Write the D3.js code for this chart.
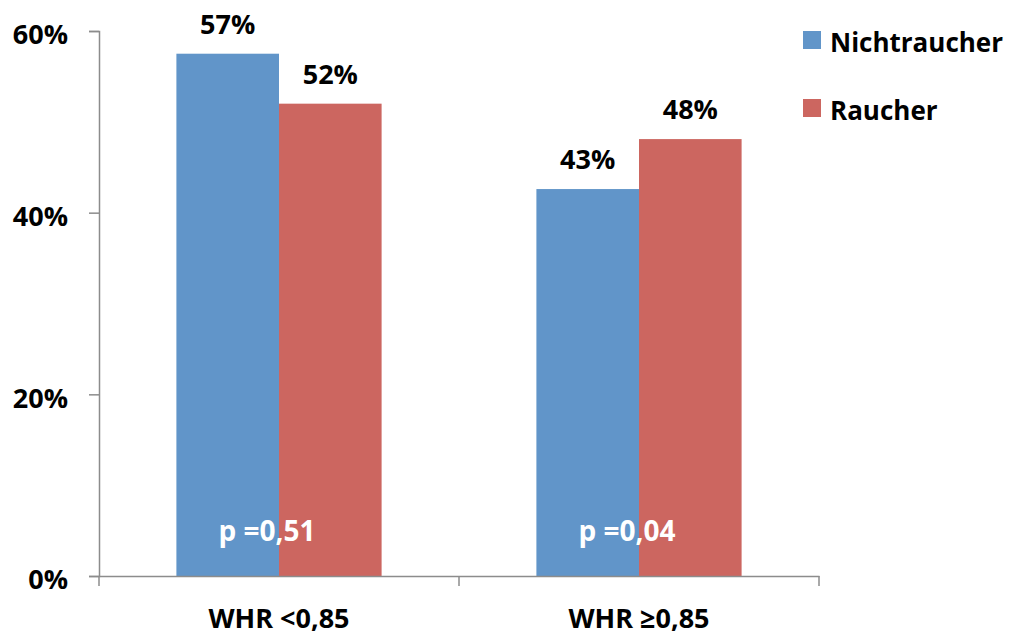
<!DOCTYPE html>
<html>
<head>
<meta charset="utf-8">
<script src="https://cdn.jsdelivr.net/npm/d3@7"></script>
<style>
  body { margin: 0; background: #fff; }
  svg text { font-family: "Open Sans", Lato, sans-serif; font-weight: bold; fill: #000; }
</style>
</head>
<body>
<div id="chart"></div>
<script>
// Data
const categories = ["WHR <0,85", "WHR \u22650,85"];
const series = ["Nichtraucher", "Raucher"];
const nichtraucher = [57.5, 42.6];
const raucher = [52.0, 48.1];
const valueLabels = [["57%", "52%"], ["43%", "48%"]];
const pValues = ["p =0,51", "p =0,04"];
const yTicks = [0, 20, 40, 60];

const colors = { Nichtraucher: "#6195c9", Raucher: "#cc6660" };

const width = 1011, height = 637;
const margin = { top: 31, right: 192, bottom: 61, left: 99 };
const chartWidth = width - margin.left - margin.right;
const chartHeight = height - margin.top - margin.bottom;
const fontSize = "27px";

const data = categories.map((c, i) => ({
    category: c,
    values: [
        { key: "Nichtraucher", value: nichtraucher[i], label: valueLabels[i][0] },
        { key: "Raucher", value: raucher[i], label: valueLabels[i][1] }
    ],
    p: pValues[i]
}));

const svg = d3.select("#chart")
    .append("svg")
    .attr("width", width)
    .attr("height", height);

const g = svg.append("g")
    .attr("transform", `translate(${margin.left}, ${margin.top})`);

const x0 = d3.scaleBand().domain(categories).range([0, chartWidth]).paddingInner(0).paddingOuter(0);
const x1 = d3.scaleBand().domain(series).range([0, x0.bandwidth() * 0.57]);
const groupOffset = x0.bandwidth() * (1 - 0.57) / 2;
const y = d3.scaleLinear().domain([0, 60]).range([chartHeight, 0]);

// Y axis
const yAxis = d3.axisLeft(y)
    .tickValues(yTicks)
    .tickSize(10)
    .tickPadding(21)
    .tickFormat(d => d + "%");

const yAxisG = g.append("g").attr("class", "y-axis").call(yAxis);
yAxisG.select(".domain").attr("stroke", "#8c8c8c").attr("stroke-width", 1.5);
yAxisG.selectAll(".tick line").attr("stroke", "#8c8c8c").attr("stroke-width", 1.5);
yAxisG.selectAll("text").style("font-size", fontSize).attr("dy", "0.48em");

// Bars
const groups = g.selectAll(".bar-group")
    .data(data)
    .join("g")
    .attr("class", "bar-group")
    .attr("transform", d => `translate(${x0(d.category) + groupOffset}, 0)`);

groups.selectAll("rect")
    .data(d => d.values)
    .join("rect")
    .attr("x", d => x1(d.key))
    .attr("y", d => y(d.value))
    .attr("width", x1.bandwidth())
    .attr("height", d => chartHeight - y(d.value))
    .attr("fill", d => colors[d.key]);

// Value labels
groups.selectAll(".value-label")
    .data(d => d.values)
    .join("text")
    .attr("class", "value-label")
    .attr("x", d => x1(d.key) + x1.bandwidth() / 2)
    .attr("y", d => y(d.value) - 20)
    .attr("text-anchor", "middle")
    .style("font-size", fontSize)
    .text(d => d.label);

// p values
g.selectAll(".p-label")
    .data(data)
    .join("text")
    .attr("class", "p-label")
    .attr("x", d => x0(d.category) + x0.bandwidth() / 2 - 12)
    .attr("y", y(0) - 35)
    .attr("text-anchor", "middle")
    .style("font-size", "28px")
    .style("fill", "#fff")
    .text(d => d.p);

// X axis
const xAxis = d3.axisBottom(x0).tickSize(0).tickFormat("");
const xAxisG = g.append("g")
    .attr("class", "x-axis")
    .attr("transform", `translate(0, ${chartHeight})`)
    .call(xAxis);
xAxisG.select(".domain").attr("stroke", "#8c8c8c").attr("stroke-width", 1.5);

// x tick marks at category boundaries
const bounds = [0].concat(categories.map(c => x0(c) + x0.bandwidth()));
xAxisG.selectAll(".boundary")
    .data(bounds)
    .join("line")
    .attr("class", "boundary")
    .attr("x1", d => d).attr("x2", d => d)
    .attr("y1", 0).attr("y2", 10)
    .attr("stroke", "#8c8c8c")
    .attr("stroke-width", 1.5);

xAxisG.selectAll(".cat-label")
    .data(categories)
    .join("text")
    .attr("class", "cat-label")
    .attr("x", d => x0(d) + x0.bandwidth() / 2)
    .attr("y", 52)
    .attr("text-anchor", "middle")
    .style("font-size", fontSize)
    .text(d => d);

// Legend
const legend = svg.append("g")
    .attr("class", "legend")
    .attr("transform", "translate(803, 31)");

const legendItems = legend.selectAll(".legend-item")
    .data(series)
    .join("g")
    .attr("class", "legend-item")
    .attr("transform", (d, i) => `translate(0, ${i * 68})`);

legendItems.append("rect")
    .attr("width", 18)
    .attr("height", 18)
    .attr("fill", d => colors[d]);

legendItems.append("text")
    .attr("x", 27)
    .attr("y", 21)
    .style("font-size", "26px")
    .text(d => d);
</script>
</body>
</html>
